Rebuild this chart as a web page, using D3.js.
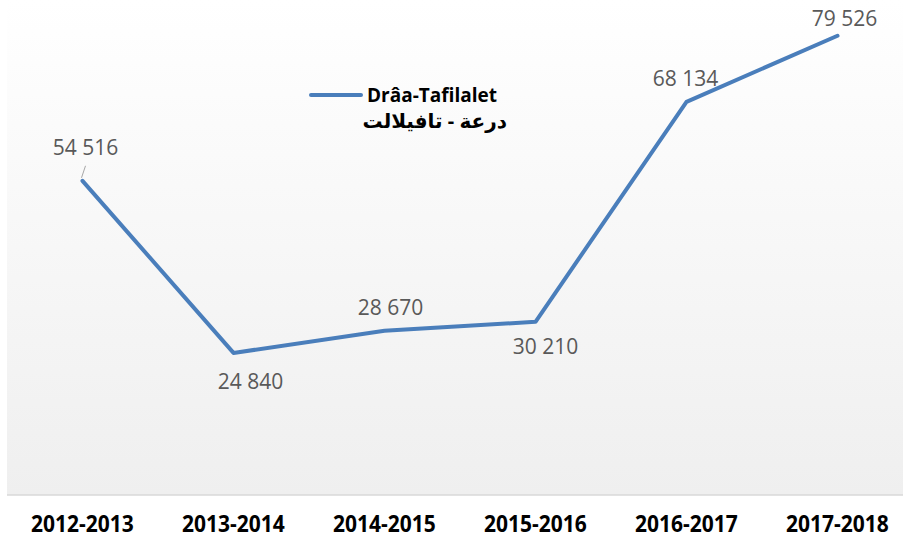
<!DOCTYPE html>
<html>
<head>
<meta charset="utf-8">
<script src="https://cdn.jsdelivr.net/npm/d3@7"></script>
<style>
  body { margin: 0; background: #fff; }
  svg { display: block; }
</style>
</head>
<body>
<svg id="chart"></svg>
<script>
var width = 903, height = 543;

// data
var seasons = ["2012-2013", "2013-2014", "2014-2015", "2015-2016", "2016-2017", "2017-2018"];
var values = [54516, 24840, 28670, 30210, 68134, 79526];
var seriesName = "Drâa-Tafilalet";
var seriesNameAr = "درعة - تافيلالت";

var data = seasons.map((s, i) => ({ season: s, value: values[i] }));

var svg = d3.select("#chart")
    .attr("width", width)
    .attr("height", height);

// scales
var xScale =
  d3.scaleBand()
    .domain(seasons)
    .range([7, 913]);

var yScale =
  d3.scaleLinear()
    .domain([0, 90000])
    .range([497, -25]);

var fmt = v => d3.format(",")(v).replace(/,/g, " ");

// plot background
var grad = svg.append("defs")
  .append("linearGradient")
    .attr("id", "bg")
    .attr("x1", 0).attr("y1", 0)
    .attr("x2", 0).attr("y2", 1);
grad.append("stop").attr("offset", "0%").attr("stop-color", "#ffffff");
grad.append("stop").attr("offset", "100%").attr("stop-color", "#efefef");

svg.append("rect")
    .attr("x", 7)
    .attr("y", 0)
    .attr("width", width - 7)
    .attr("height", 495)
    .attr("fill", "url(#bg)");

// x axis
var xAxis = svg.append("g")
    .attr("transform", "translate(0, 495)")
    .call(d3.axisBottom(xScale).tickSize(0).tickPadding(20));

xAxis.select(".domain")
    .attr("d", "M7,0H" + width)
    .attr("stroke", "#d9d9d9")
    .attr("stroke-width", 1.5);

xAxis.selectAll("text")
    .attr("fill", "#000")
    .attr("dy", "0.65em")
    .style("font-family", "'Open Sans', sans-serif")
    .style("font-weight", "bold")
    .style("font-size", "21px")
    .attr("transform", "scale(1,1.1)");

var cx = d => xScale(d.season) + xScale.bandwidth() / 2;

// line
svg.append("path")
    .datum(data)
    .attr("fill", "none")
    .attr("stroke", "#4a7ebb")
    .attr("stroke-width", 4)
    .attr("stroke-linejoin", "round")
    .attr("stroke-linecap", "round")
    .attr("d", d3.line().x(cx).y(d => yScale(d.value)));

// leader line for the first label
svg.append("line")
    .attr("x1", cx(data[0]) - 1)
    .attr("y1", yScale(data[0].value) - 3)
    .attr("x2", cx(data[0]) + 3)
    .attr("y2", yScale(data[0].value) - 15)
    .attr("stroke", "#a6a6a6")
    .attr("stroke-width", 1);

// value labels
var offsets = [[3, -26], [17, 36], [6, -16], [10, 32], [-1, -16], [7, -10]];

svg.append("g")
  .selectAll("text")
  .data(data)
  .enter()
  .append("text")
    .attr("x", (d, i) => cx(d) + offsets[i][0])
    .attr("y", (d, i) => yScale(d.value) + offsets[i][1])
    .attr("text-anchor", "middle")
    .attr("fill", "#595959")
    .style("font-family", "'Open Sans', sans-serif")
    .style("font-size", "21px")
    .text(d => fmt(d.value));

// legend
svg.append("line")
    .attr("x1", 311).attr("x2", 361)
    .attr("y1", 95).attr("y2", 95)
    .attr("stroke", "#4a7ebb")
    .attr("stroke-width", 4)
    .attr("stroke-linecap", "round");

svg.append("text")
    .attr("x", 367)
    .attr("y", 102)
    .attr("fill", "#000")
    .style("font-family", "'Open Sans', sans-serif")
    .style("font-weight", "bold")
    .style("font-size", "19px")
    .text(seriesName);

svg.append("text")
    .attr("x", 507)
    .attr("y", 128)
    .attr("text-anchor", "end")
    .attr("fill", "#000")
    .style("font-family", "'Noto Sans', 'DejaVu Sans', sans-serif")
    .style("font-weight", "bold")
    .style("font-size", "20px")
    .text(seriesNameAr);
</script>
</body>
</html>
